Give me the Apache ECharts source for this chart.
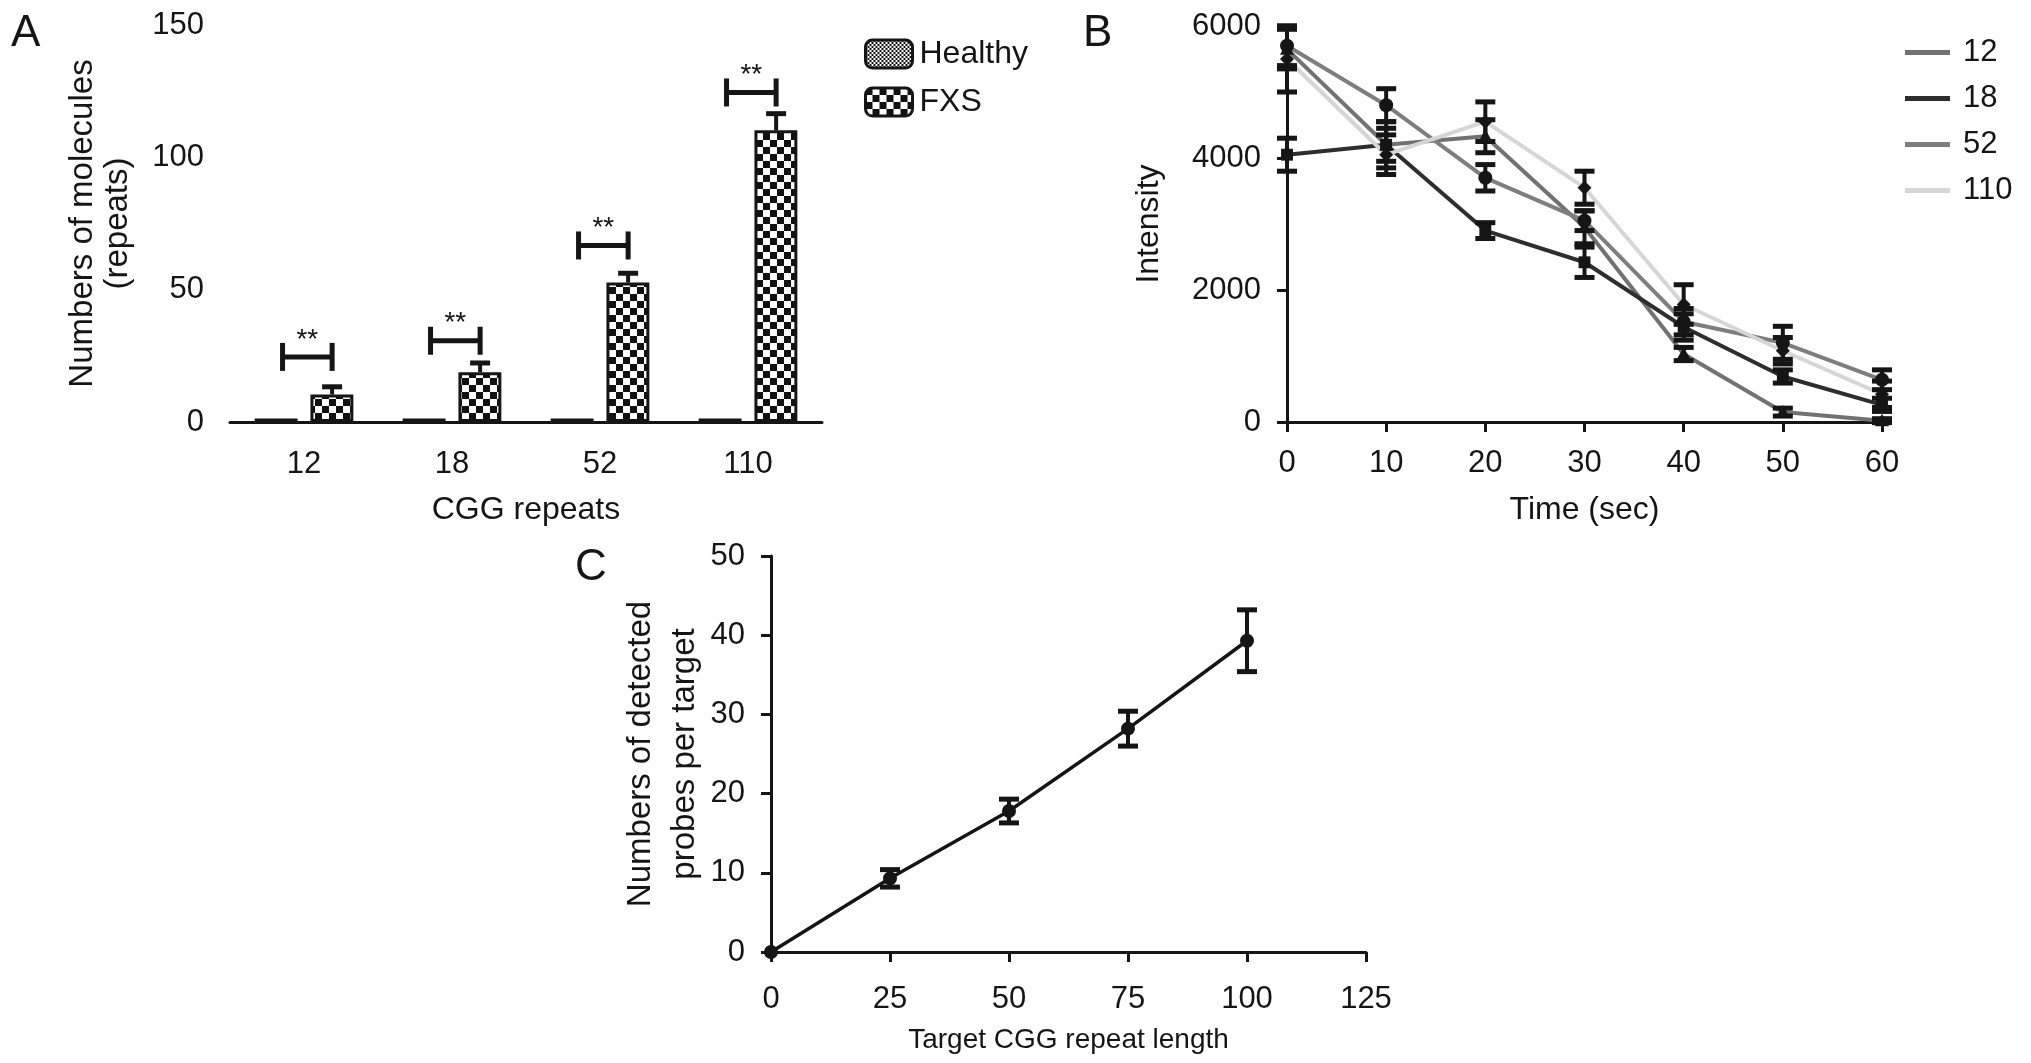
<!DOCTYPE html>
<html>
<head>
<meta charset="utf-8">
<script src="https://cdn.jsdelivr.net/npm/echarts@6/dist/echarts.min.js"></script>
<style>
  html, body { margin: 0; padding: 0; background: #fff; }
  #chart { width: 2031px; height: 1063px; }
</style>
</head>
<body>
<div id="chart"></div>
<script>
// ---- panel A : molecules per CGG repeat
var repeatCats = ['12', '18', '52', '110'];
var healthyVals = [1.3, 1.3, 1.3, 1.3];
var fxsVals = [10.4, 18.8, 52.7, 110.2];
var fxsErr = [2.9, 3.5, 3.5, 6.3];
var sigHeights = [24.6, 30.7, 66.7, 124.5];
var sigLabels = ['**', '**', '**', '**'];

// ---- panel B : intensity over time
var timePts = [0, 10, 20, 30, 40, 50, 60];
var int12 = [5650, 4200, 4330, 2950, 1030, 150, 20];
var int18 = [4050, 4200, 2900, 2420, 1440, 690, 260];
var int52 = [5700, 4800, 3700, 3050, 1520, 1200, 640];
var int110 = [5500, 4050, 4550, 3550, 1780, 1080, 420];
var err12 = [300, 250, 250, 250, 100, 60, 30];
var err18 = [250, 350, 120, 230, 200, 100, 100];
var err52 = [300, 250, 200, 150, 200, 250, 150];
var err110 = [500, 300, 300, 250, 300, 200, 200];

// ---- panel C : detected probes per target
var targetLen = [0, 25, 50, 75, 100];
var probeVals = [0, 9.3, 17.8, 28.2, 39.3];
var probeErr = [0, 1.1, 1.5, 2.2, 3.9];

var FONT = '"Liberation Sans", Arial, Helvetica, sans-serif';
var INK = '#151515';

function checker(cell) {
  var c = document.createElement('canvas');
  c.width = c.height = cell * 2;
  var g = c.getContext('2d');
  g.fillStyle = '#fff';
  g.fillRect(0, 0, cell * 2, cell * 2);
  g.fillStyle = '#111';
  g.fillRect(0, 0, cell, cell);
  g.fillRect(cell, cell, cell, cell);
  return c;
}

function axisStyle(extra) {
  var base = {
    axisLine: { lineStyle: { color: INK, width: 3 } },
    axisTick: { length: 10, lineStyle: { color: INK, width: 3 } },
    splitLine: { show: false },
    axisLabel: { fontSize: 31, color: INK, fontFamily: FONT, margin: 26, formatter: function (v) { return String(v); } },
    nameTextStyle: { fontSize: 32, color: INK, fontFamily: FONT },
    nameLocation: 'middle'
  };
  for (var k in extra) base[k] = extra[k];
  return base;
}

var yLabel = { fontSize: 31, color: INK, fontFamily: FONT, margin: 26, formatter: function (v) { return String(v); } };

function seg(x1, y1, x2, y2, w) {
  return { type: 'line', shape: { x1: x1, y1: y1, x2: x2, y2: y2 }, style: { stroke: INK, lineWidth: w || 4 } };
}

// vertical error bar with caps, and a marker
function errorBarItem(shape, r) {
  return function (params, api) {
    var x = api.value(0), y = api.value(1), e = api.value(2);
    var p = api.coord([x, y]);
    var t = api.coord([x, y + e]);
    var b = api.coord([x, y - e]);
    var kids = [];
    if (e > 0) {
      kids.push(seg(t[0], t[1], b[0], b[1], 4));
      kids.push(seg(t[0] - 10, t[1], t[0] + 10, t[1], 5));
      kids.push(seg(b[0] - 10, b[1], b[0] + 10, b[1], 5));
    }
    var mk;
    if (shape === 'triangle') {
      mk = { type: 'polygon', shape: { points: [[p[0], p[1] - r], [p[0] + r, p[1] + r * 0.8], [p[0] - r, p[1] + r * 0.8]] } };
    } else if (shape === 'square') {
      mk = { type: 'rect', shape: { x: p[0] - r * 0.85, y: p[1] - r * 0.85, width: r * 1.7, height: r * 1.7 } };
    } else if (shape === 'diamond') {
      mk = { type: 'polygon', shape: { points: [[p[0], p[1] - r], [p[0] + r, p[1]], [p[0], p[1] + r], [p[0] - r, p[1]]] } };
    } else {
      mk = { type: 'circle', shape: { cx: p[0], cy: p[1], r: r } };
    }
    mk.style = { fill: INK };
    kids.push(mk);
    return { type: 'group', children: kids };
  };
}

var OFF = 0.19; // bar centre offset as a share of the category band

function fxsErrItem(params, api) {
  var c = api.coord([api.value(0), api.value(1)]);
  var t = api.coord([api.value(0), api.value(1) + api.value(2)]);
  var x = c[0] + api.size([1, 0])[0] * OFF;
  return { type: 'group', children: [
    seg(x, c[1], x, t[1], 4),
    seg(x - 10, t[1], x + 10, t[1], 5)
  ] };
}

function bracketItem(params, api) {
  var c = api.coord([api.value(0), api.value(1)]);
  var band = api.size([1, 0])[0];
  var x1 = c[0] - band * 0.145, x2 = c[0] + band * 0.19, y = c[1];
  return { type: 'group', children: [
    seg(x1, y, x2, y, 5),
    seg(x1, y - 14, x1, y + 14, 5),
    seg(x2, y - 14, x2, y + 14, 5),
    { type: 'text', x: (x1 + x2) / 2, y: y - 17,
      style: { text: sigLabels[params.dataIndex], fontSize: 28, fontFamily: FONT, fill: INK, align: 'center', verticalAlign: 'middle' } }
  ] };
}

function pairs(xs, ys, es) {
  return xs.map(function (x, i) { return es ? [x, ys[i], es[i]] : [x, ys[i]]; });
}

var bSeries = [
  { name: '12', vals: int12, errs: err12, color: '#727272', shape: 'triangle' },
  { name: '18', vals: int18, errs: err18, color: '#2e2e2e', shape: 'square' },
  { name: '52', vals: int52, errs: err52, color: '#7e7e7e', shape: 'circle' },
  { name: '110', vals: int110, errs: err110, color: '#d6d6d6', shape: 'diamond' }
];

var series = [
  { name: 'Healthy', type: 'bar', xAxisIndex: 0, yAxisIndex: 0, data: healthyVals,
    barWidth: '29%', barGap: '30%',
    itemStyle: { color: { image: checker(2), repeat: 'repeat' }, borderColor: INK, borderWidth: 3 } },
  { name: 'FXS', type: 'bar', xAxisIndex: 0, yAxisIndex: 0, data: fxsVals,
    barWidth: '29%', barGap: '30%',
    itemStyle: { color: { image: checker(7), repeat: 'repeat' }, borderColor: INK, borderWidth: 3 } },
  { name: 'fxsErr', type: 'custom', xAxisIndex: 0, yAxisIndex: 0, z: 5,
    data: fxsVals.map(function (v, i) { return [i, v, fxsErr[i]]; }), renderItem: fxsErrItem },
  { name: 'sig', type: 'custom', xAxisIndex: 0, yAxisIndex: 0, z: 5,
    data: sigHeights.map(function (v, i) { return [i, v]; }), renderItem: bracketItem }
];

bSeries.forEach(function (s) {
  series.push({ name: s.name, type: 'line', xAxisIndex: 1, yAxisIndex: 1, symbol: 'none',
    lineStyle: { color: s.color, width: 4 }, itemStyle: { color: s.color },
    data: pairs(timePts, s.vals) });
});
bSeries.forEach(function (s) {
  series.push({ name: s.name + ' sem', type: 'custom', xAxisIndex: 1, yAxisIndex: 1, z: 6,
    data: pairs(timePts, s.vals, s.errs), renderItem: errorBarItem(s.shape, 7) });
});

series.push({ name: 'probes', type: 'line', xAxisIndex: 2, yAxisIndex: 2, symbol: 'none',
  lineStyle: { color: INK, width: 3.5 }, data: pairs(targetLen, probeVals) });
series.push({ name: 'probes sem', type: 'custom', xAxisIndex: 2, yAxisIndex: 2, z: 6,
  data: pairs(targetLen, probeVals, probeErr), renderItem: errorBarItem('circle', 7) });

var option = {
  backgroundColor: '#fff',
  animation: false,
  textStyle: { fontFamily: FONT },
  grid: [
    { left: 230, top: 25, width: 592, height: 397 },
    { left: 1287, top: 26, width: 595, height: 396 },
    { left: 771, top: 556, width: 595, height: 396 }
  ],
  xAxis: [
    axisStyle({ gridIndex: 0, type: 'category', data: repeatCats, name: 'CGG repeats', nameGap: 72,
      axisTick: { alignWithLabel: true, length: 10, lineStyle: { color: INK, width: 3 } },
      axisLabel: { fontSize: 31, color: INK, fontFamily: FONT, margin: 27 } }),
    axisStyle({ gridIndex: 1, type: 'value', min: 0, max: 60, interval: 10, name: 'Time (sec)', nameGap: 72 }),
    axisStyle({ gridIndex: 2, type: 'value', min: 0, max: 125, interval: 25, name: 'Target CGG repeat length', nameGap: 74,
      axisLabel: { fontSize: 31, color: INK, fontFamily: FONT, margin: 32, formatter: function (v) { return String(v); } },
      nameTextStyle: { fontSize: 28, color: INK, fontFamily: FONT } })
  ],
  yAxis: [
    axisStyle({ gridIndex: 0, type: 'value', min: 0, max: 150, interval: 50, axisLabel: yLabel,
      name: 'Numbers of molecules\n(repeats)', nameGap: 95, nameRotate: 90,
      nameTextStyle: { fontSize: 33, color: INK, fontFamily: FONT, lineHeight: 35 } }),
    axisStyle({ gridIndex: 1, type: 'value', min: 0, max: 6000, interval: 2000, axisLabel: yLabel,
      name: 'Intensity', nameGap: 122, nameRotate: 90 }),
    axisStyle({ gridIndex: 2, type: 'value', min: 0, max: 50, interval: 10, axisLabel: yLabel,
      name: 'Numbers of detected\nprobes per target', nameGap: 62, nameRotate: 90,
      nameTextStyle: { fontSize: 33, color: INK, fontFamily: FONT, lineHeight: 44 } })
  ],
  legend: [
    { data: ['Healthy', 'FXS'], orient: 'vertical', left: 864, top: 38, padding: 0,
      itemWidth: 47, itemHeight: 28, itemGap: 16, selectedMode: false,
      itemStyle: { borderColor: INK, borderWidth: 3 },
      textStyle: { fontSize: 32, color: INK, fontFamily: FONT, lineHeight: 30, padding: [0, 0, 0, 2] } },
    { data: bSeries.map(function (s) { return { name: s.name, itemStyle: { color: s.color } }; }),
      orient: 'vertical', left: 1905, top: 37, padding: 0, icon: 'rect',
      itemWidth: 45, itemHeight: 5, itemGap: 15, selectedMode: false,
      textStyle: { fontSize: 31, color: INK, fontFamily: FONT, lineHeight: 30, padding: [0, 0, 0, 8] } }
  ],
  graphic: [
    { type: 'text', left: 11, top: 12, style: { text: 'A', fontSize: 44, fontFamily: FONT, fill: INK } },
    { type: 'text', left: 1083, top: 12, style: { text: 'B', fontSize: 44, fontFamily: FONT, fill: INK } },
    { type: 'text', left: 575, top: 546, style: { text: 'C', fontSize: 44, fontFamily: FONT, fill: INK } }
  ],
  series: series
};

echarts.init(document.getElementById('chart')).setOption(option);
</script>
</body>
</html>
